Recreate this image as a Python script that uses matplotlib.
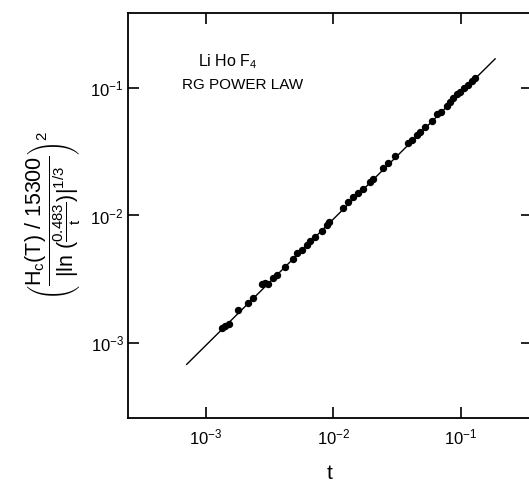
import numpy as np
import matplotlib
matplotlib.use("Agg")
import matplotlib.pyplot as plt

plt.rcParams['font.family'] = ['Liberation Sans', 'DejaVu Sans']
plt.rcParams['mathtext.fontset'] = 'custom'
plt.rcParams['mathtext.rm'] = 'Liberation Sans'
plt.rcParams['mathtext.it'] = 'Liberation Sans'

# reduced temperature t and scaled critical field
t_vals = [1.335e-3, 1.416e-3, 1.524e-3, 1.792e-3, 2.146e-3, 2.35e-3, 2.77e-3, 2.92e-3,
          3.08e-3, 3.37e-3, 3.62e-3, 4.19e-3, 4.84e-3, 5.20e-3, 5.69e-3, 6.23e-3,
          6.58e-3, 7.20e-3, 8.17e-3, 8.94e-3, 9.27e-3, 1.194e-2, 1.306e-2, 1.43e-2,
          1.56e-2, 1.71e-2, 1.94e-2, 2.05e-2, 2.46e-2, 2.69e-2, 3.05e-2, 3.86e-2,
          4.15e-2, 4.54e-2, 4.80e-2, 5.25e-2, 5.96e-2, 6.52e-2, 7.00e-2, 7.80e-2,
          8.23e-2, 8.69e-2, 9.35e-2, 9.87e-2, 0.106, 0.114, 0.1225, 0.1294]
hc_vals = [1.303e-3, 1.359e-3, 1.409e-3, 1.815e-3, 2.061e-3, 2.255e-3, 2.90e-3, 2.96e-3,
           2.90e-3, 3.24e-3, 3.41e-3, 3.94e-3, 4.56e-3, 5.08e-3, 5.36e-3, 5.87e-3,
           6.31e-3, 6.78e-3, 7.55e-3, 8.41e-3, 8.88e-3, 1.135e-2, 1.265e-2, 1.396e-2,
           1.50e-2, 1.61e-2, 1.83e-2, 1.93e-2, 2.36e-2, 2.58e-2, 2.93e-2, 3.71e-2,
           3.91e-2, 4.28e-2, 4.52e-2, 4.94e-2, 5.51e-2, 6.25e-2, 6.49e-2, 7.23e-2,
           7.77e-2, 8.35e-2, 8.98e-2, 9.31e-2, 0.100, 0.1057, 0.1135, 0.1197]

# power law line ends
line_t = [7.1e-4, 0.186]
line_hc = [6.8e-4, 0.169]

x_ticks = [1e-3, 1e-2, 1e-1]
y_ticks = [1e-3, 1e-2, 1e-1]

fig = plt.figure(figsize=(5.29, 4.87), dpi=100)
ax = fig.add_axes([128/529, 69/487, 404/529, 405/487])

ax.plot(line_t, line_hc, color='black', lw=1.0)
ax.plot(t_vals, hc_vals, 'o', color='black', ms=4.3, mec='black')

ax.set_xscale('log')
ax.set_yscale('log')
ax.set_xlim(2.46e-4, 0.362)
ax.set_ylim(2.58e-4, 0.387)
ax.set_xticks(x_ticks)
ax.set_yticks(y_ticks)
ax.minorticks_off()
ax.tick_params(which='major', direction='in', length=8, width=1.2,
               top=True, right=True, labelsize=12)
ax.tick_params(axis='x', pad=7)
ax.tick_params(axis='y', pad=3)
for s in ax.spines.values():
    s.set_linewidth(1.3)

ax.text(0.173, 0.879, r'Li Ho F$_4$', transform=ax.transAxes, fontsize=11.5, va='center')
ax.text(0.134, 0.822, 'RG POWER LAW', transform=ax.transAxes, fontsize=11, va='center')

ax.set_xlabel('t', fontsize=15, labelpad=12)
ax.set_ylabel(r'$\left(\dfrac{H_c(T)\ /\ 15300}{|\ln\,(\frac{0.483}{t})|^{1/3}}\right)^2$',
              fontsize=15.5, labelpad=5)

fig.savefig('out.png', dpi=100)
